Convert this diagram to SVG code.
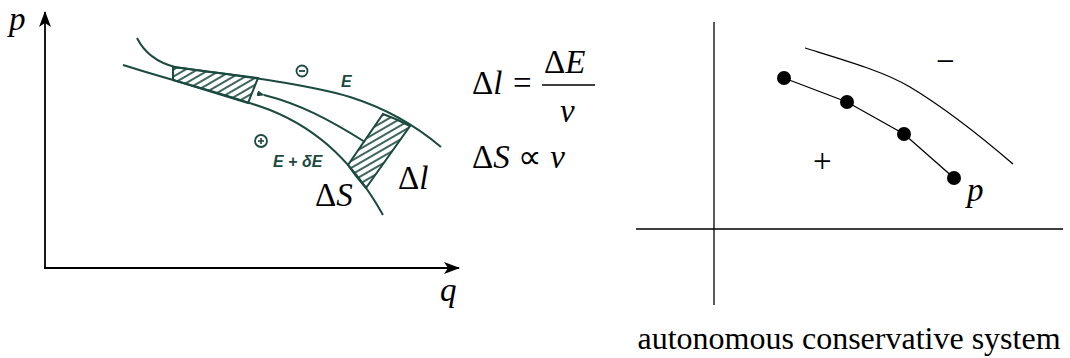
<svg xmlns="http://www.w3.org/2000/svg" width="1070" height="358" viewBox="0 0 1070 358">
<defs>
<style>
.t{font-family:"Liberation Serif","Times New Roman",serif;font-size:33px;fill:#000}
.c{font-family:"Liberation Serif","Times New Roman",serif;font-size:32px;fill:#000}
.i{font-style:italic}
.ax{stroke:#000;stroke-width:1.8;fill:none}
.thin{stroke:#000;stroke-width:1.3;fill:none}
.g{stroke:#1b4a40;stroke-width:2;fill:none}
.sm{font-family:"Liberation Sans",Arial,sans-serif;font-size:16px;font-weight:bold;font-style:italic;fill:#1b4a40}
</style>
<marker id="ah" viewBox="0 0 16 12" refX="15" refY="6" markerWidth="16" markerHeight="12" markerUnits="userSpaceOnUse" orient="auto">
<path d="M0,0 L16,6 L0,12 L4,6 Z" fill="#000"/>
</marker>
<marker id="sh" viewBox="0 0 8 6" refX="1" refY="3" markerWidth="8" markerHeight="6" markerUnits="userSpaceOnUse" orient="auto-start-reverse">
<path d="M0,3 L8,0 L8,6 Z" fill="#1b4a40"/>
</marker>
<pattern id="hatch" width="6" height="6" patternUnits="userSpaceOnUse" patternTransform="rotate(-30)">
<line x1="0" y1="3" x2="6" y2="3" stroke="#1b4a40" stroke-width="1.7"/>
</pattern>
</defs>

<g id="left-axes">
<line class="ax" x1="45" y1="268" x2="45" y2="12" marker-end="url(#ah)"/>
<line class="ax" x1="44" y1="268" x2="459" y2="268" marker-end="url(#ah)"/>
<text class="t i" x="9" y="30">p</text>
<text class="t i" x="440" y="301">q</text>
</g>

<g id="phase-flow">
<path d="M173,67 L258,78 L248,103 L173,80 Z" fill="url(#hatch)" stroke="#1b4a40" stroke-width="2"/>
<path d="M383,114 Q397,119 410,126 L366,188 Q356,177 348,165 Z" fill="url(#hatch)" stroke="#1b4a40" stroke-width="2"/>
<path class="g" d="M137,38 Q148,60 175,67 C220,74 300,82 350,97 C385,108 415,125 441,147"/>
<path class="g" d="M123,65 C170,80 230,95 270,110 C320,130 355,165 383,215"/>
<path class="g" d="M365,142 C330,120 300,104 264,95" marker-end="url(#sh)"/>
<circle cx="302" cy="71" r="5.5" fill="none" stroke="#1b4a40" stroke-width="1.8"/>
<line x1="299" y1="71" x2="305" y2="71" stroke="#1b4a40" stroke-width="1.8"/>
<text class="sm" x="341" y="87">E</text>
<circle cx="261" cy="141" r="6" fill="none" stroke="#1b4a40" stroke-width="1.8"/>
<line x1="258" y1="141" x2="264" y2="141" stroke="#1b4a40" stroke-width="1.6"/>
<line x1="261" y1="138" x2="261" y2="144" stroke="#1b4a40" stroke-width="1.6"/>
<text class="sm" x="273" y="167">E + δE</text>
<text class="t" x="315" y="206">Δ<tspan class="i">S</tspan></text>
<text class="t" x="398" y="189">Δ<tspan class="i">l</tspan></text>
</g>

<g id="formulas">
<text class="t" x="472" y="94">Δ<tspan class="i">l</tspan></text>
<text class="t" x="513" y="94">=</text>
<text class="t" x="544" y="73">Δ<tspan class="i">E</tspan></text>
<line x1="542" y1="85" x2="595" y2="85" stroke="#000" stroke-width="1.5"/>
<text class="t i" x="560" y="122">v</text>
<text class="t" x="472" y="168">Δ<tspan class="i">S</tspan> ∝ <tspan class="i">v</tspan></text>
</g>

<g id="right-axes">
<line class="thin" x1="714" y1="22" x2="714" y2="305"/>
<line class="thin" x1="636" y1="229" x2="1063" y2="229"/>
</g>

<g id="right-curve">
<path class="thin" d="M805,48 C850,62 885,72 910,87 C945,108 985,140 1013,164"/>
</g>

<g id="orbit">
<polyline class="thin" points="784,78 847,102 904,134 954,178"/>
<circle cx="784" cy="78" r="7" fill="#000"/>
<circle cx="847" cy="102" r="7" fill="#000"/>
<circle cx="904" cy="134" r="7" fill="#000"/>
<circle cx="954" cy="178" r="7" fill="#000"/>
<text class="t i" x="967" y="201">p</text>
<text class="t" x="936" y="72">−</text>
<text class="t" x="813" y="172">+</text>
</g>

<g id="caption">
<text class="c" x="849" y="349" text-anchor="middle">autonomous conservative system</text>
</g>
</svg>
